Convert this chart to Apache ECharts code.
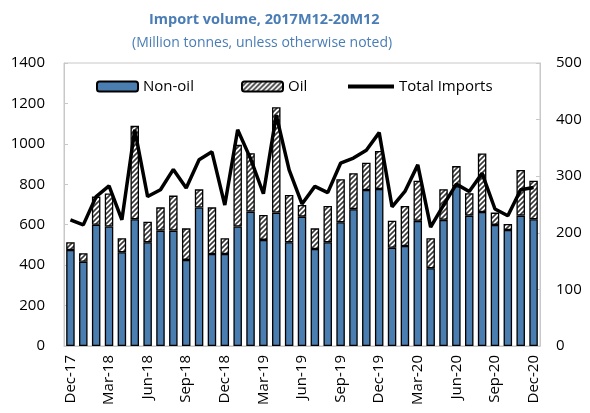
<!DOCTYPE html>
<html>
<head>
<meta charset="utf-8">
<title>Import volume</title>
<script src="https://cdn.jsdelivr.net/npm/echarts@6/dist/echarts.min.js"></script>
<style>
html,body{margin:0;padding:0;background:#fff;}
#chart{width:590px;height:413px;}
</style>
</head>
<body>
<div id="chart"></div>
<script>
// data
var months = ['Dec-17','Jan-18','Feb-18','Mar-18','Apr-18','May-18','Jun-18','Jul-18','Aug-18','Sep-18','Oct-18','Nov-18',
  'Dec-18','Jan-19','Feb-19','Mar-19','Apr-19','May-19','Jun-19','Jul-19','Aug-19','Sep-19','Oct-19','Nov-19',
  'Dec-19','Jan-20','Feb-20','Mar-20','Apr-20','May-20','Jun-20','Jul-20','Aug-20','Sep-20','Oct-20','Nov-20','Dec-20'];
var nonOil = [475,417,600,591,464,627,513,571,571,426,685,455,455,591,665,525,660,513,640,480,513,612,677,772,777,486,495,619,385,624,790,645,663,599,574,645,627];
var oil = [38,42,139,164,69,462,102,115,173,156,90,231,78,404,289,123,521,234,58,102,180,213,178,135,188,134,198,199,148,152,100,111,289,61,30,226,191];
var totalImports = [223,214,264,283,223,382,264,276,312,279,329,343,249,382,331,269,408,311,251,282,271,323,332,346,377,246,273,320,210,249,286,273,305,242,230,276,280];
var leftTicks = [0,200,400,600,800,1000,1200,1400];
var rightTicks = [0,100,200,300,400,500];

// hatch pattern for oil
function hatch() {
  var c = document.createElement('canvas');
  c.width = 5; c.height = 5;
  var g = c.getContext('2d');
  g.fillStyle = '#fff';
  g.fillRect(0, 0, 5, 5);
  g.strokeStyle = '#3a3a3a';
  g.lineWidth = 1.6;
  g.beginPath();
  g.moveTo(-1, 6); g.lineTo(6, -1);
  g.moveTo(-1, 1); g.lineTo(1, -1);
  g.moveTo(4, 6); g.lineTo(6, 4);
  g.stroke();
  return c;
}

var FONT = 'Open Sans';
var blue = '#4A7DB0';
var titleBlue = '#4A7DB5';
var chart = echarts.init(document.getElementById('chart'));

var legendText = {fontSize: 15, color: '#000', fontFamily: FONT};

var option = {
  animation: false,
  textStyle: {fontFamily: FONT},
  title: [
    {text: 'Import volume, 2017M12-20M12', left: 144, top: 7,
      textStyle: {color: titleBlue, fontSize: 14.5, fontWeight: 'bold', fontFamily: FONT}},
    {text: '(Million tonnes, unless otherwise noted)', left: 127, top: 31,
      textStyle: {color: titleBlue, fontSize: 14, fontWeight: 'normal', fontFamily: FONT}}
  ],
  legend: [
    {data: ['Non-oil'], left: 91, top: 74, itemWidth: 41, itemHeight: 10, textStyle: legendText},
    {data: ['Oil'], left: 236, top: 74, itemWidth: 41, itemHeight: 10, textStyle: legendText},
    {data: [{name: 'Total Imports', icon: 'rect'}], left: 343, top: 74, itemWidth: 46, itemHeight: 4,
      itemStyle: {color: '#000', borderWidth: 0}, textStyle: legendText}
  ],
  grid: {left: 64, right: 50, top: 63, bottom: 67, show: true, borderColor: '#c8c8c8', borderWidth: 1},
  xAxis: {
    type: 'category',
    data: months,
    axisLine: {lineStyle: {color: '#c8c8c8'}},
    axisTick: {show: false},
    axisLabel: {interval: 2, rotate: 90, fontSize: 15, color: '#000', margin: 9}
  },
  yAxis: [
    {
      type: 'value', min: leftTicks[0], max: leftTicks[leftTicks.length - 1], interval: 200,
      axisLine: {show: true, lineStyle: {color: '#c8c8c8'}},
      axisTick: {show: true, inside: true, length: 4, lineStyle: {color: '#c8c8c8'}},
      splitLine: {show: false},
      axisLabel: {fontSize: 15, color: '#000', margin: 19, formatter: function (v) { return String(v); }}
    },
    {
      type: 'value', min: rightTicks[0], max: rightTicks[rightTicks.length - 1], interval: 100,
      axisLine: {show: true, lineStyle: {color: '#c8c8c8'}},
      axisTick: {show: true, inside: true, length: 4, lineStyle: {color: '#c8c8c8'}},
      splitLine: {show: false},
      axisLabel: {fontSize: 15, color: '#000', margin: 16, formatter: function (v) { return String(v); }}
    }
  ],
  series: [
    {
      name: 'Non-oil', type: 'bar', stack: 'vol', data: nonOil,
      barCategoryGap: '34%',
      itemStyle: {color: blue, borderColor: '#000', borderWidth: 1.3}
    },
    {
      name: 'Oil', type: 'bar', stack: 'vol', data: oil,
      itemStyle: {color: {image: hatch(), repeat: 'repeat'}, borderColor: '#000', borderWidth: 1.3}
    },
    {
      name: 'Total Imports', type: 'line', yAxisIndex: 1, data: totalImports,
      symbol: 'none',
      lineStyle: {color: '#000', width: 3.5},
      itemStyle: {color: '#000'}
    }
  ]
};
chart.setOption(option);
</script>
</body>
</html>
